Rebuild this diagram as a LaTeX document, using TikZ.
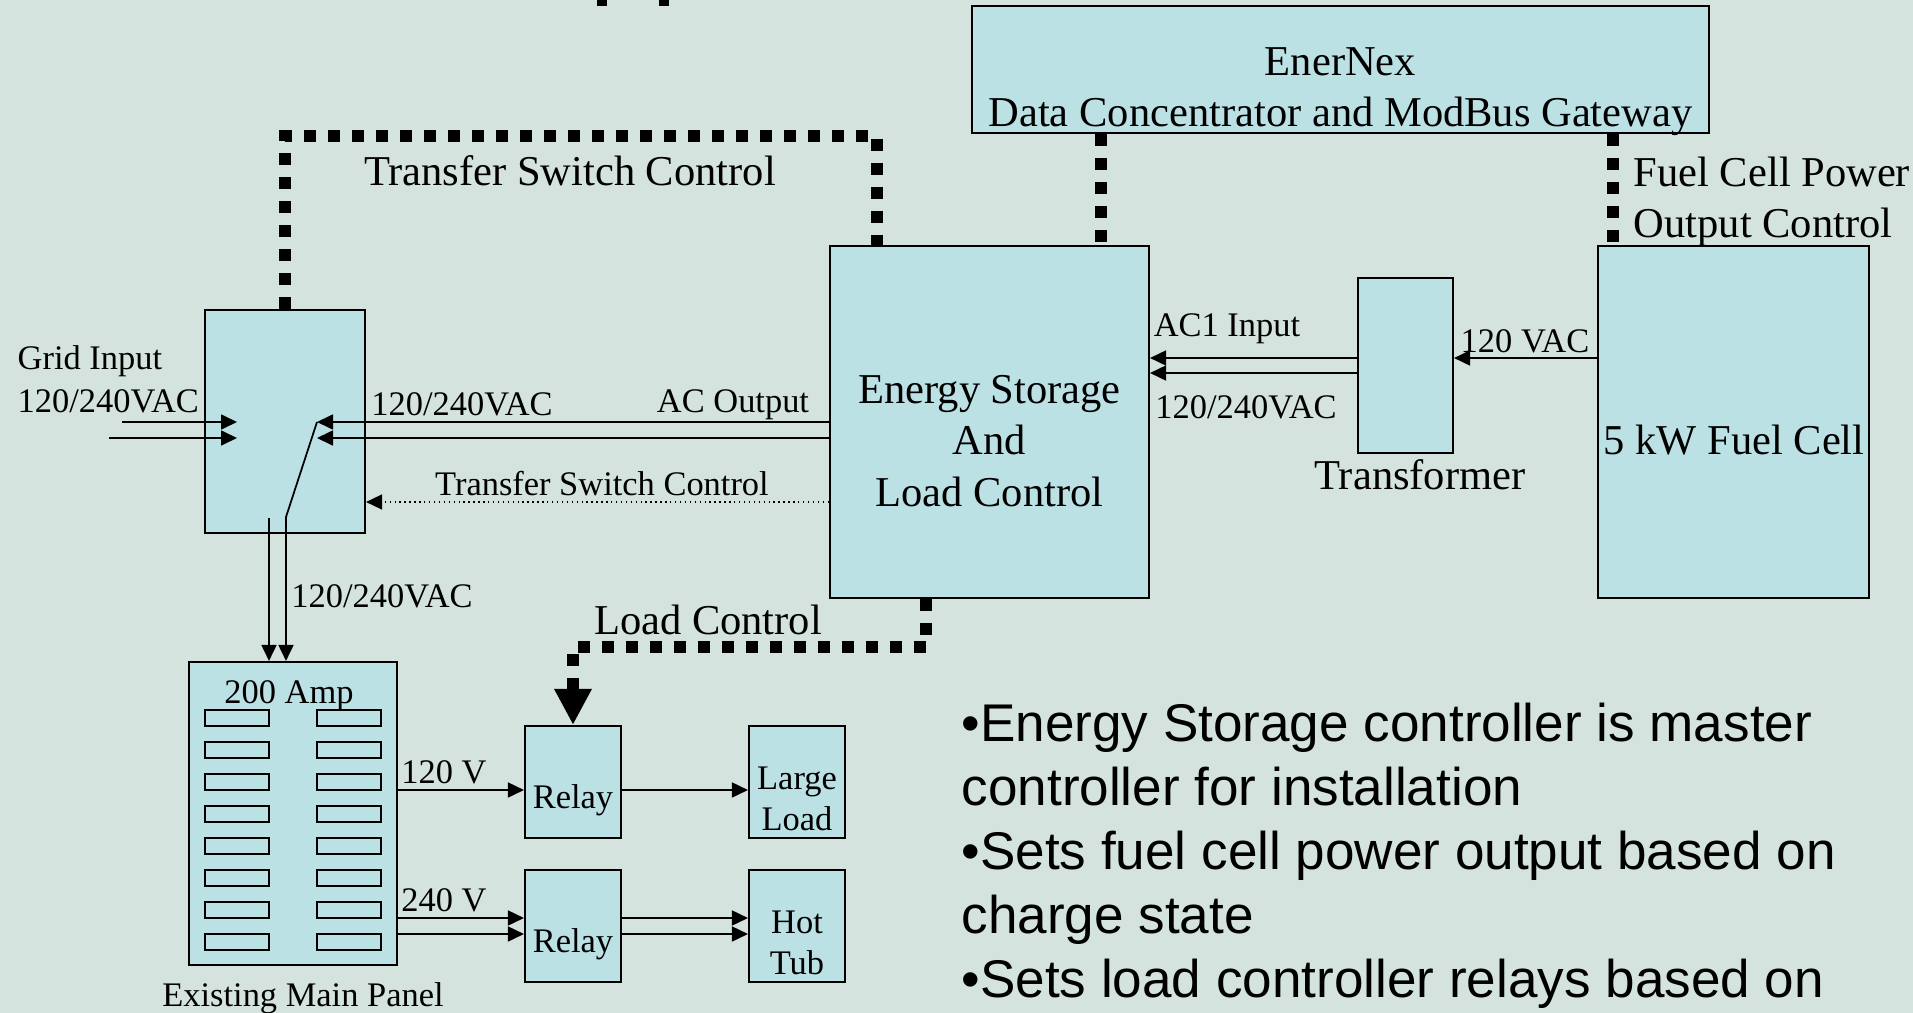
\documentclass[tikz,border=0pt]{standalone}
\usepackage{fontspec}
\setmainfont{Liberation Serif}
\newfontfamily\notefont{Liberation Sans}
\usepackage{xcolor}
\usepackage{tikz}
\usetikzlibrary{arrows.meta, calc}
\definecolor{slidebg}{RGB}{212,227,222}
\definecolor{boxcyan}{RGB}{188,225,228}

\begin{document}
\begin{tikzpicture}[>={Triangle[length=0.16cm, width=0.15cm]},
  box/.style={draw=black, line width=0.6pt, fill=boxcyan, inner sep=0pt},
  big/.style={font=\fontsize{12.1}{14.6}\selectfont, inner sep=0pt},
  small/.style={font=\fontsize{9.8}{11.6}\selectfont, inner sep=0pt},
  wire/.style={line width=0.5pt},
  ctrl/.style={line width=0.12cm, dash pattern=on 0.12cm off 0.12cm},
  slot/.style={draw=black, line width=0.6pt, minimum width=0.64cm, minimum height=0.16cm, inner sep=0pt}]
  \fill[slidebg] (0,0) rectangle (19.13,-10.13);
  \useasboundingbox (0,0) rectangle (19.13,-10.13);
  \fill (5.97,0) rectangle (6.07,-0.06);
  \fill (6.59,0) rectangle (6.69,-0.06);

  \node[box, minimum width=7.37cm, minimum height=1.27cm] (enx) at (13.405,-0.695) {};
  \node[big, align=center] (enxtext) at (13.405,-0.92) {EnerNex\\Data Concentrator and ModBus Gateway};
  \node[box, minimum width=3.19cm, minimum height=3.52cm] (es) at (9.895,-4.22) {};
  \node[big, align=center] (estext) at (9.895,-4.41) {Energy Storage\\And\\Load Control};
  \node[box, minimum width=1.60cm, minimum height=2.23cm] (ts) at (2.85,-4.215) {};
  \node[box, minimum width=0.95cm, minimum height=1.75cm] (xf) at (14.055,-3.655) {};
  \node[big] (xftext) at (14.20,-4.75) {Transformer};
  \node[box, minimum width=2.71cm, minimum height=3.52cm] (fc) at (17.335,-4.22) {};
  \node[big] (fctext) at (17.34,-4.40) {5 kW Fuel Cell};

  \node[box, minimum width=2.08cm, minimum height=3.03cm] (panel) at (2.93,-8.135) {};
  \foreach \r in {0,...,7} {
    \node[slot] (sl\r) at (2.37,{-7.18-0.32*\r}) {};
    \node[slot] (sr\r) at (3.49,{-7.18-0.32*\r}) {};
  }
  \node[small] (amp) at (2.89,-6.96) {200 Amp};
  \node[small] (paneltext) at (3.03,-9.98) {Existing Main Panel};
  \node[box, minimum width=0.96cm, minimum height=1.12cm] (relaya) at (5.73,-7.82) {};
  \node[small] (relayatext) at (5.73,-8.00) {Relay};
  \node[box, minimum width=0.96cm, minimum height=1.12cm] (relayb) at (5.73,-9.26) {};
  \node[small] (relaybtext) at (5.73,-9.44) {Relay};
  \node[box, minimum width=0.96cm, minimum height=1.12cm] (large) at (7.97,-7.82) {};
  \node[small, align=center] (largetext) at (7.97,-7.99) {Large\\Load};
  \node[box, minimum width=0.96cm, minimum height=1.12cm] (tub) at (7.97,-9.26) {};
  \node[small, align=center] (tubtext) at (7.97,-9.43) {Hot\\Tub};

  \coordinate (grida) at (1.22,-4.22);
  \coordinate (gridb) at (1.09,-4.38);
  \coordinate (blade) at (3.17,-4.22);
  \coordinate (bladeb) at (3.17,-4.38);
  \coordinate (pivot) at (2.86,-5.17);
  \coordinate (feed) at (2.69,-5.18);
  \draw[wire, ->] (grida) -- (grida -| 2.37,0);
  \draw[wire, ->] (gridb) -- (gridb -| 2.37,0);
  \draw[wire, ->] (es.west |- blade) -- (blade);
  \draw[wire, ->] (es.west |- bladeb) -- (bladeb);
  \draw[wire, ->] (blade) -- (pivot) -- (pivot |- panel.north);
  \draw[wire, ->] (feed) -- (feed |- panel.north);
  \draw[line width=0.4pt, densely dotted, ->] ([yshift=-0.8cm]es.west) -- ([yshift=-0.8cm]es.west -| ts.east);
  \draw[wire, ->] (xf.west |- 0,-3.58) -- (es.east |- 0,-3.58);
  \draw[wire, ->] (xf.west |- 0,-3.73) -- (es.east |- 0,-3.73);
  \draw[wire, ->] (fc.west |- 0,-3.58) -- (xf.east |- 0,-3.58);
  \draw[wire, ->] (panel.east |- 0,-7.90) -- (relaya.west |- 0,-7.90);
  \draw[wire, ->] (relaya.east |- 0,-7.90) -- (large.west |- 0,-7.90);
  \foreach \y in {-9.18,-9.34} {
    \draw[wire, ->] (panel.east |- 0,\y) -- (relayb.west |- 0,\y);
    \draw[wire, ->] (relayb.east |- 0,\y) -- (tub.west |- 0,\y);
  }

  \coordinate (tsc) at (8.77,-1.36);
  \coordinate (busa) at (11.01,0);
  \coordinate (busb) at (16.13,0);
  \coordinate (lc) at (9.26,-6.47);
  \draw[ctrl] (ts.north) |- (tsc) -- (tsc |- es.north);
  \draw[ctrl] (busa |- enx.south) -- (busa |- es.north);
  \draw[ctrl] (busb |- enx.south) -- (busb |- fc.north);
  \draw[ctrl, -{Triangle[length=0.36cm, width=0.35cm]}] (lc |- es.south) -- (lc) -- (lc -| relaya.north) -- (relaya.north);

  \node[big] (tsclabel) at (5.70,-1.71) {Transfer Switch Control};
  \node[big, anchor=west, align=left] (fclabel) at (16.33,-2.02) {Fuel Cell Power\\Output Control};
  \node[big] (lclabel) at (7.08,-6.20) {Load Control};
  \node[small, anchor=west, align=left, font=\fontsize{9.8}{12.2}\selectfont] (gridlabel) at (0.17,-3.79) {Grid Input\\120/240VAC};
  \node[small] (acvlabel) at (4.62,-4.04) {120/240VAC};
  \node[small] (acolabel) at (7.33,-4.05) {AC Output};
  \node[small] (tsslabel) at (6.02,-4.84) {Transfer Switch Control};
  \node[small] (panelvlabel) at (3.82,-5.96) {120/240VAC};
  \node[small] (ac1label) at (12.27,-3.29) {AC1 Input};
  \node[small] (xfvlabel) at (12.46,-4.07) {120/240VAC};
  \node[small] (fcvlabel) at (15.25,-3.41) {120 VAC};
  \node[small] (valabel) at (4.44,-7.72) {120 V};
  \node[small] (vblabel) at (4.44,-9.00) {240 V};

  \node[anchor=west, align=left, inner sep=0pt, font=\notefont\fontsize{15.1}{18.2}\selectfont] (notes) at (9.61,-8.56)
    {•Energy Storage controller is master\\controller for installation\\•Sets fuel cell power output based on\\charge state\\•Sets load controller relays based on};
\end{tikzpicture}
\end{document}
